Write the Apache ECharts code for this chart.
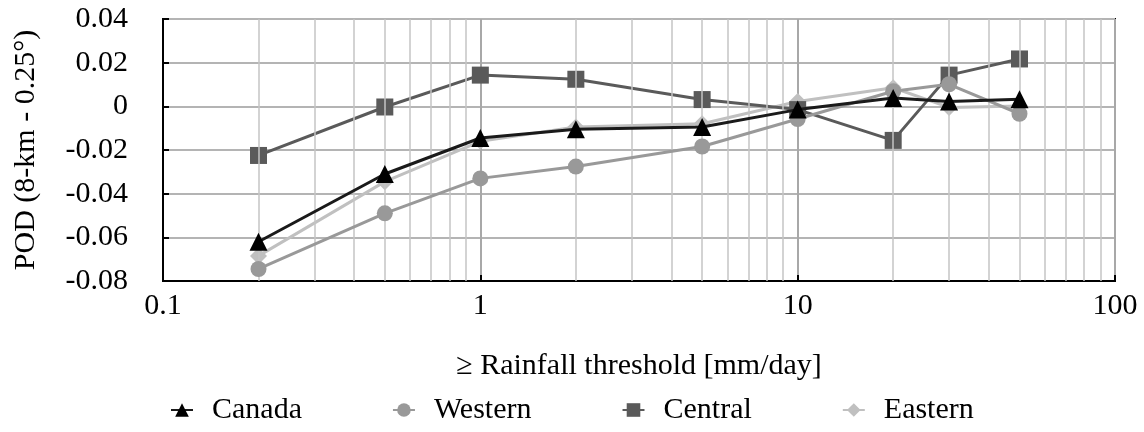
<!DOCTYPE html>
<html>
<head>
<meta charset="utf-8">
<script src="https://cdn.jsdelivr.net/npm/echarts@6/dist/echarts.min.js"></script>
<style>
  html, body { margin: 0; padding: 0; background: #fff; }
  #chart { width: 1144px; height: 432px; }
</style>
</head>
<body>
<div id="chart"></div>
<script>
// Rainfall thresholds (mm/day)
const thresholds = [0.2, 0.5, 1, 2, 5, 10, 20, 30, 50];

// POD difference (8-km minus 0.25°) per region
const canada  = [-0.062, -0.031, -0.0145, -0.0105, -0.0095, -0.0015, 0.0038, 0.0022, 0.0032];
const western = [-0.0745, -0.049, -0.033, -0.0276, -0.0184, -0.0058, 0.0069, 0.0101, -0.0034];
const central = [-0.0225, -0.0003, 0.0143, 0.0124, 0.0031, -0.0015, -0.0156, 0.0143, 0.0217];
const eastern = [-0.0685, -0.0345, -0.016, -0.0095, -0.008, 0.0022, 0.0085, -0.0005, 0.0002];

// Minor log grid positions
const minorGrid = [0.2, 0.3, 0.4, 0.5, 0.6, 0.7, 0.8, 0.9, 2, 3, 4, 5, 6, 7, 8, 9, 20, 30, 40, 50, 60, 70, 80, 90];

const FONT = 'Liberation Serif';
const FS = 30;

function pairs(vals) {
  return thresholds.map((t, i) => [t, vals[i]]);
}

const chart = echarts.init(document.getElementById('chart'));
chart.setOption({
  animation: false,
  textStyle: { fontFamily: FONT },
  grid: {
    left: 163, right: 29, top: 19, bottom: 151,
    show: true, borderColor: '#000', borderWidth: 2, backgroundColor: 'transparent'
  },
  xAxis: {
    type: 'log', logBase: 10, min: 0.1, max: 100,
    name: '≥ Rainfall threshold [mm/day]',
    nameLocation: 'middle', nameGap: 70,
    nameTextStyle: { fontFamily: FONT, fontSize: FS, color: '#000' },
    axisLine: { show: true, onZero: false, lineStyle: { color: '#000', width: 2 } },
    axisTick: { show: true, inside: true, length: 6, lineStyle: { color: '#000', width: 2 } },
    axisLabel: { fontFamily: FONT, fontSize: FS, color: '#000', margin: 10 },
    splitLine: { show: true, lineStyle: { color: '#a8a8a8', width: 2 } }
  },
  yAxis: {
    type: 'value', min: -0.08, max: 0.04, interval: 0.02,
    name: 'POD (8-km - 0.25°)',
    nameLocation: 'middle', nameGap: 122,
    nameTextStyle: { fontFamily: FONT, fontSize: FS, color: '#000' },
    axisLine: { show: true, lineStyle: { color: '#000', width: 2 } },
    axisTick: { show: true, inside: true, length: 6, lineStyle: { color: '#000', width: 2 } },
    axisLabel: {
      fontFamily: FONT, fontSize: FS, color: '#000', margin: 35,
      formatter: v => (Math.abs(v) < 1e-9 ? '0' : v.toFixed(2))
    },
    splitLine: { show: true, lineStyle: { color: '#b4b4b4', width: 2 } }
  },
  legend: {
    bottom: 2, left: 165,
    itemGap: 90, itemWidth: 22, itemHeight: 17,
    formatter: name => '{s|}' + name,
    textStyle: {
      fontFamily: FONT, fontSize: FS, color: '#000',
      rich: { s: { width: 14 } }
    },
    data: ['Canada', 'Western', 'Central', 'Eastern']
  },
  series: [
    {
      name: 'minor-grid', type: 'line', data: [], silent: true, z: 0,
      markLine: {
        silent: true, symbol: ['none', 'none'], animation: false,
        label: { show: false },
        lineStyle: { color: '#c4c4c4', width: 1.5, type: 'solid' },
        data: minorGrid.map(v => ({ xAxis: v }))
      }
    },
    {
      name: 'Eastern', type: 'line', z: 3, data: pairs(eastern),
      symbol: 'diamond', symbolSize: 17,
      itemStyle: { color: '#c0c0c0' },
      lineStyle: { color: '#c0c0c0', width: 3 }
    },
    {
      name: 'Central', type: 'line', z: 4, data: pairs(central),
      symbol: 'rect', symbolSize: 17,
      itemStyle: { color: '#5a5a5a' },
      lineStyle: { color: '#5a5a5a', width: 3 }
    },
    {
      name: 'Western', type: 'line', z: 5, data: pairs(western),
      symbol: 'circle', symbolSize: 16,
      itemStyle: { color: '#999999' },
      lineStyle: { color: '#999999', width: 3 }
    },
    {
      name: 'Canada', type: 'line', z: 6, data: pairs(canada),
      symbol: 'triangle', symbolSize: 18,
      itemStyle: { color: '#000' },
      lineStyle: { color: '#1a1a1a', width: 3 }
    }
  ]
});
</script>
</body>
</html>
